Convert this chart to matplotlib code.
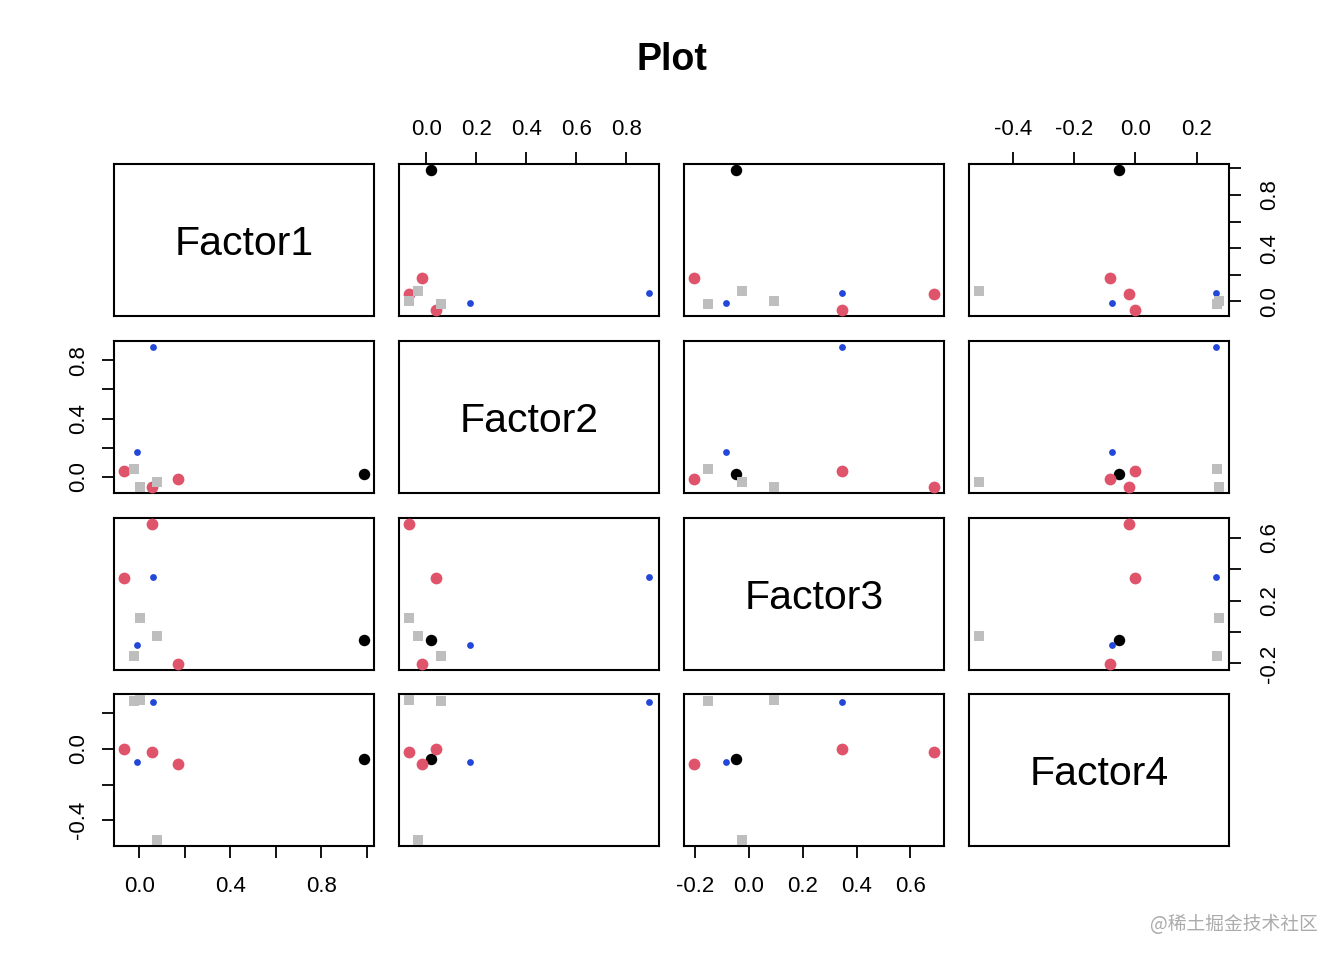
import matplotlib
matplotlib.use('Agg')
import matplotlib.pyplot as plt
import numpy as np

plt.rcParams['font.family'] = ['Liberation Sans', 'DejaVu Sans']

# ---- data (factor loadings) ----
labels = ['Factor1', 'Factor2', 'Factor3', 'Factor4']
factor1 = [0.990, 0.173, 0.056, -0.068, -0.011, 0.061, 0.077, 0.002, -0.021]
factor2 = [0.020, -0.016, -0.071, 0.040, 0.173, 0.893, -0.034, -0.071, 0.057]
factor3 = [-0.048, -0.206, 0.689, 0.346, -0.085, 0.347, -0.027, 0.091, -0.154]
factor4 = [-0.055, -0.083, -0.021, -0.003, -0.075, 0.262, -0.512, 0.274, 0.266]
groups = [1, 2, 2, 2, 3, 3, 4, 4, 4]

ticks_f1 = [0.0, 0.2, 0.4, 0.6, 0.8, 1.0]
ticks_f2 = [0.0, 0.2, 0.4, 0.6, 0.8]
ticks_f3 = [-0.2, 0.0, 0.2, 0.4, 0.6]
ticks_f4 = [-0.4, -0.2, 0.0, 0.2]
title = 'Plot'
watermark = '@稀土掘金技术社区'

# ---- styles ----
group_color = {1: '#000000', 2: '#DF536B', 3: '#2347D8', 4: '#BEBEBE'}
group_marker = {1: 'o', 2: 'o', 3: 'o', 4: 's'}
group_size = {1: 68, 2: 72, 3: 24, 4: 62}

data = [np.array(factor1), np.array(factor2), np.array(factor3), np.array(factor4)]
ticks = [ticks_f1, ticks_f2, ticks_f3, ticks_f4]

def lims(v):
    lo, hi = v.min(), v.max()
    p = (hi - lo) * 0.04
    return lo - p, hi + p

W, H = 1344, 960
fig = plt.figure(figsize=(W / 100, H / 100), dpi=100)
col_x = [114, 399, 684, 969]
row_y = [164, 341, 518, 694]
pw, ph = 260, 152

TL = 8.6
TW = 1.3
FS = 16

def fmt_labels(tk, shown):
    return [('%.1f' % t) if any(abs(t - s) < 1e-9 for s in shown) else '' for t in tk]

for i in range(4):
    for j in range(4):
        ax = fig.add_axes([col_x[j] / W, 1 - (row_y[i] + ph) / H, pw / W, ph / H])
        for s in ax.spines.values():
            s.set_linewidth(1.5)
        ax.set_xticks([]); ax.set_yticks([])
        if i == j:
            ax.text(0.5, 0.5 - 4 / ph, labels[i], ha='center', va='center',
                    fontsize=29.5, transform=ax.transAxes)
            continue
        x = data[j]; y = data[i]
        for g in [1, 2, 3, 4]:
            m = np.array(groups) == g
            ax.scatter(x[m], y[m], c=group_color[g], marker=group_marker[g],
                       s=group_size[g], linewidths=0, zorder=3)
        ax.set_xlim(*lims(x)); ax.set_ylim(*lims(y))

        # top axis
        if i == 0 and j in (1, 3):
            ax.xaxis.tick_top()
            ax.set_xticks(ticks[j], labels=fmt_labels(ticks[j], ticks[j]))
            ax.tick_params(axis='x', direction='out', length=TL, width=TW,
                           labelsize=FS, pad=8.5, top=True, bottom=False)
        # bottom axis
        if i == 3 and j in (0, 2):
            shown = [0.0, 0.4, 0.8] if j == 0 else ticks[j]
            ax.set_xticks(ticks[j], labels=fmt_labels(ticks[j], shown))
            ax.tick_params(axis='x', direction='out', length=TL, width=TW,
                           labelsize=FS, pad=13)
        # left axis
        if j == 0 and i in (1, 3):
            shown = [0.0, 0.4, 0.8] if i == 1 else [-0.4, 0.0]
            ax.set_yticks(ticks[i], labels=fmt_labels(ticks[i], shown))
            ax.tick_params(axis='y', direction='out', length=TL, width=TW,
                           labelsize=FS, pad=9.5, labelrotation=90)
            for lb in ax.get_yticklabels():
                lb.set_va('center')
        # right axis
        if j == 3 and i in (0, 2):
            ax.yaxis.tick_right()
            shown = [0.0, 0.4, 0.8] if i == 0 else [-0.2, 0.2, 0.6]
            ax.set_yticks(ticks[i], labels=fmt_labels(ticks[i], shown))
            ax.tick_params(axis='y', direction='out', length=TL, width=TW,
                           labelsize=FS, pad=13, labelrotation=90,
                           right=True, left=False)
            for lb in ax.get_yticklabels():
                lb.set_va('center')

fig.text(672 / W, 1 - 60 / H, title, ha='center', va='center', fontsize=27,
         fontweight='bold')
fig.text(1318 / W, 1 - 924 / H, watermark, ha='right', va='center', fontsize=13.5,
         color='#ABABAB', family=['Noto Sans CJK SC', 'DejaVu Sans'])

fig.savefig('out.png', dpi=100, facecolor='white')
